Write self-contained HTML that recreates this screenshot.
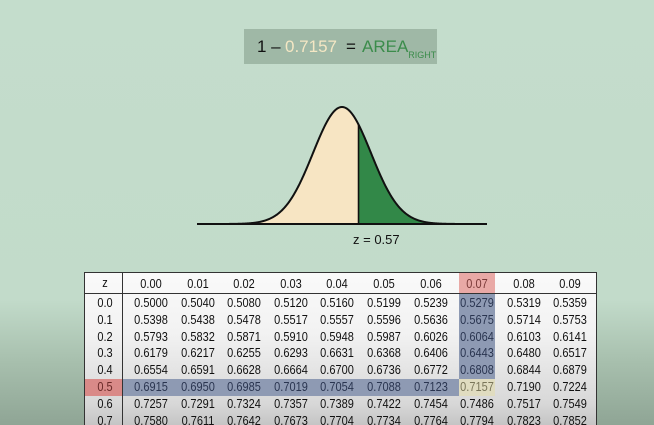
<!DOCTYPE html>
<html><head><meta charset="utf-8"><style>
html,body{margin:0;width:654px;height:425px;overflow:hidden}
body{position:relative;font-family:"Liberation Sans",sans-serif;
background:linear-gradient(180deg,#c4ddcc 0px,#c2dbca 300px,#a8c0ae 360px,#8fa595 425px);}
#box{position:absolute;left:244px;top:29px;width:193px;height:35px;background:#9fb8a6;font-size:17px;line-height:35px;color:#111}
#tbl{position:absolute;left:84px;top:272px;width:513px;height:153px;overflow:hidden;background:linear-gradient(180deg,#fafafa 0,#f2f2f2 60px,#d8d8d8 130px,#c4c4c4 153px);border:1px solid #333;border-bottom:none;box-sizing:border-box}
.c{position:absolute;font-family:"Liberation Sans Narrow","Liberation Sans",sans-serif;font-size:12.5px;text-align:center;color:#111;transform:translate(-50%,-50%) scaleX(0.88);white-space:nowrap}
</style></head><body>
<div id="box">
<span style="position:absolute;left:13px">1 –</span>
<span style="position:absolute;left:41px;color:#f4e7c4">0.7157</span>
<span style="position:absolute;left:102px">=</span>
<span style="position:absolute;left:118px;color:#3b8c4b">AREA<sub style="font-size:9px;vertical-align:-6px">RIGHT</sub></span>
</div>
<svg id="curve" width="654" height="260" style="position:absolute;left:0;top:0"></svg>
<div id="tbl"></div>
<script>
const meanX=342, sigma=29, baseY=224, peakH=117, zValue=0.57;
const colHeaders=["0.00","0.01","0.02","0.03","0.04","0.05","0.06","0.07","0.08","0.09"];
const rowHeaders=["0.0","0.1","0.2","0.3","0.4","0.5","0.6","0.7"];
const tableValues=[
["0.5000","0.5040","0.5080","0.5120","0.5160","0.5199","0.5239","0.5279","0.5319","0.5359"],
["0.5398","0.5438","0.5478","0.5517","0.5557","0.5596","0.5636","0.5675","0.5714","0.5753"],
["0.5793","0.5832","0.5871","0.5910","0.5948","0.5987","0.6026","0.6064","0.6103","0.6141"],
["0.6179","0.6217","0.6255","0.6293","0.6631","0.6368","0.6406","0.6443","0.6480","0.6517"],
["0.6554","0.6591","0.6628","0.6664","0.6700","0.6736","0.6772","0.6808","0.6844","0.6879"],
["0.6915","0.6950","0.6985","0.7019","0.7054","0.7088","0.7123","0.7157","0.7190","0.7224"],
["0.7257","0.7291","0.7324","0.7357","0.7389","0.7422","0.7454","0.7486","0.7517","0.7549"],
["0.7580","0.7611","0.7642","0.7673","0.7704","0.7734","0.7764","0.7794","0.7823","0.7852"]];
const hiRow=5, hiCol=7;
const NS="http://www.w3.org/2000/svg";
const svg=document.getElementById('curve');
const fy=x=>baseY-peakH*Math.exp(-0.5*((x-meanX)/sigma)**2);
const splitX=meanX+zValue*sigma;
function mk(t,a){const e=document.createElementNS(NS,t);for(const k in a)e.setAttribute(k,a[k]);svg.appendChild(e);return e;}
function areaPath(x0,x1){let d=`M${x0},${baseY}`;for(let x=x0;x<=x1;x+=0.5)d+=`L${x},${fy(x)}`;d+=`L${x1},${fy(x1)}L${x1},${baseY}Z`;return d;}
let e=mk('path',{d:areaPath(meanX-5*sigma,splitX),fill:'#f7e5c3'});

e=mk('path',{d:areaPath(splitX,meanX+5*sigma),fill:'#328848'});

let d='';for(let x=meanX-5*sigma;x<=meanX+5*sigma;x+=0.5)d+=(d?'L':'M')+x+','+fy(x);
e=mk('path',{d:d,fill:'none',stroke:'#111','stroke-width':2});

e=mk('line',{x1:197,x2:487,y1:baseY,y2:baseY,stroke:'#111','stroke-width':2});

e=mk('line',{x1:splitX,x2:splitX,y1:fy(splitX),y2:baseY,stroke:'#111','stroke-width':1.6});

e=mk('text',{x:353,y:244,'font-size':13,fill:'#111','font-family':'Liberation Sans,sans-serif'});
e.textContent='z = '+zValue.toFixed(2);


const tbl=document.getElementById('tbl');
const colX=c=>66+c*46.6, rowY=r=>30+r*16.8, zX=20;
function div(css,txt){const el=document.createElement('div');el.style.cssText=css;if(txt!=null)el.textContent=txt;tbl.appendChild(el);return el;}
let el=div(`position:absolute;left:${colX(hiCol)-18}px;top:0;width:36px;height:21px;background:#e9a9a6`);

el=div(`position:absolute;left:${colX(hiCol)-18}px;top:21px;width:36px;height:${rowY(hiRow)-8-21}px;background:#8e9ab3`);

el=div(`position:absolute;left:0;top:${rowY(hiRow)-8.5}px;width:37px;height:17px;background:#d98a88`);

el=div(`position:absolute;left:38px;top:${rowY(hiRow)-8.5}px;width:${colX(hiCol)-18-38}px;height:17px;background:#8e9ab3`);

el=div(`position:absolute;left:${colX(hiCol)-18}px;top:${rowY(hiRow)-8.5}px;width:36px;height:17px;background:#e0dcc0`);

el=div('position:absolute;left:37px;top:0;width:1px;height:160px;background:#333');

el=div('position:absolute;left:0;top:20px;width:513px;height:1px;background:#333');

el=div(`left:${zX}px;top:10px`,'z');el.className='c';

colHeaders.forEach((h,c)=>{const t=div(`left:${colX(c)}px;top:11px`,h);t.className='c';
if(c===hiCol)t.style.color='#7a3a38';

});
rowHeaders.forEach((h,r)=>{const t=div(`left:${zX}px;top:${rowY(r)}px`,h);t.className='c';
if(r===hiRow)t.style.color='#6a2a28';


tableValues[r].forEach((v,c)=>{const u=div(`left:${colX(c)}px;top:${rowY(r)}px`,v);u.className='c';
if(r===hiRow&&c===hiCol)u.style.color='#7a765a';else if((r===hiRow&&c<hiCol)||(c===hiCol&&r<hiRow))u.style.color='#2a3550';

});});
</script>
</body></html>
